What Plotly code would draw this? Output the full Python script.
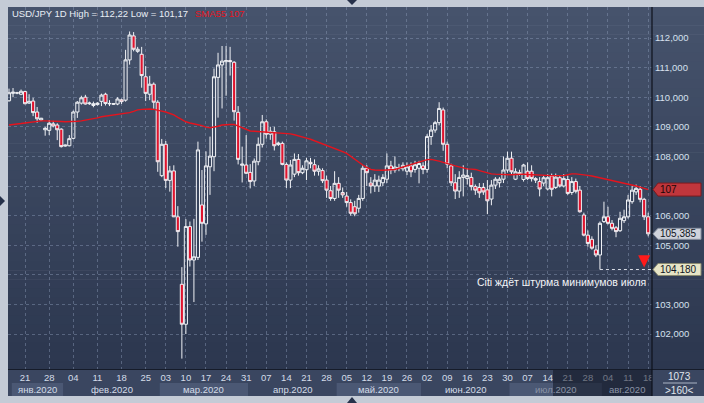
import plotly.graph_objects as go
import pandas as pd

# ---------------- data ----------------
jan_feb = [d for d in pd.date_range("2020-01-16", "2020-02-28") if d.weekday() != 5]
mar_aug = list(pd.bdate_range("2020-03-02", "2020-08-18"))
dates = [d.strftime("%Y-%m-%d") for d in jan_feb + mar_aug]

open_ = [
    109.88, 110.13, 110.15, 110.10, 110.19, 109.80, 109.87, 109.50, 109.23, 108.90,
    108.88, 109.10, 109.06, 108.92, 108.35, 108.36, 108.61, 109.50, 109.80, 110.00,
    109.78, 109.72, 109.75, 109.86, 110.10, 109.79, 109.76, 109.77, 109.91, 109.90,
    111.26, 112.07, 111.55, 111.45, 110.69, 110.10, 110.44, 109.83, 107.35, 108.41,
    107.19, 107.51, 105.96, 103.68, 102.33, 105.63, 104.50, 104.59, 106.36, 105.72,
    107.65, 107.99, 110.67, 111.09, 111.20, 111.24, 111.18, 109.49, 107.70, 107.71,
    107.46, 107.17, 107.82, 108.41, 109.17, 108.75, 108.83, 108.40, 108.44, 107.73,
    107.20, 107.40, 107.90, 107.45, 107.55, 107.80, 107.72, 107.50, 107.52, 107.20,
    106.84, 106.58, 107.09, 106.78, 106.66, 106.44, 106.30, 106.25, 106.58, 107.60,
    107.10, 107.00, 107.00, 107.11, 107.23, 107.68, 107.54, 107.60, 107.58, 107.50,
    107.68, 107.56, 107.60, 107.68, 107.56, 108.67, 108.89, 109.14, 109.57, 108.41,
    107.68, 107.11, 106.83, 107.29, 107.25, 107.29, 106.98, 106.95, 106.95, 106.87,
    106.56, 107.03, 107.11, 107.23, 107.54, 107.94, 107.23, 107.45, 107.22, 107.50,
    107.50, 107.25, 107.15, 107.10, 106.90, 107.34, 106.95, 107.28, 107.00, 107.22,
    106.78, 107.15, 106.86, 106.02, 105.34, 105.20, 104.84, 104.67, 105.80, 105.96,
    105.74, 105.59, 105.49, 105.83, 105.96, 106.47, 106.80, 106.89, 106.55, 105.96,
]
high = [
    110.29, 110.31, 110.18, 110.26, 110.22, 110.10, 109.98, 109.67, 109.30, 109.00,
    109.23, 109.20, 109.12, 108.95, 108.40, 108.72, 109.55, 109.87, 110.05, 110.08,
    109.85, 109.85, 109.83, 110.12, 110.15, 109.90, 109.80, 110.00, 109.95, 111.60,
    112.22, 112.20, 111.70, 111.70, 111.05, 110.72, 110.50, 109.90, 108.59, 108.52,
    107.68, 107.70, 106.32, 104.26, 105.88, 105.80, 105.89, 108.50, 107.54, 108.17,
    108.67, 110.97, 111.50, 111.73, 111.73, 111.70, 111.22, 109.70, 108.33, 108.72,
    107.74, 107.93, 108.64, 109.40, 109.25, 109.00, 109.00, 108.50, 108.50, 107.80,
    107.88, 108.10, 108.08, 107.70, 107.95, 107.95, 107.90, 107.70, 107.60, 107.35,
    107.00, 107.50, 107.30, 106.95, 106.80, 106.55, 106.50, 106.70, 107.70, 107.70,
    107.30, 107.40, 107.35, 107.40, 108.10, 107.85, 108.00, 107.75, 107.80, 107.80,
    107.80, 107.85, 107.85, 107.80, 108.75, 109.06, 109.20, 109.83, 109.65, 108.50,
    107.75, 107.40, 107.50, 107.70, 107.60, 107.45, 107.05, 107.10, 107.10, 107.20,
    107.20, 107.30, 107.30, 108.00, 108.16, 108.16, 107.60, 107.55, 107.75, 107.80,
    107.70, 107.30, 107.30, 107.35, 107.40, 107.42, 107.42, 107.35, 107.40, 107.35,
    107.30, 107.25, 107.00, 106.10, 105.50, 105.30, 105.00, 105.80, 106.47, 106.30,
    105.85, 105.65, 106.13, 106.20, 106.70, 107.00, 107.05, 107.00, 106.60, 106.10,
]
low = [
    109.85, 110.00, 110.10, 110.07, 109.76, 109.77, 109.36, 109.14, 109.20, 108.70,
    108.72, 108.98, 108.55, 108.30, 108.33, 108.34, 108.58, 109.30, 109.75, 109.75,
    109.74, 109.66, 109.72, 109.70, 109.72, 109.70, 109.74, 109.73, 109.77, 109.85,
    111.10, 111.55, 111.50, 110.32, 109.87, 109.90, 109.61, 107.48, 107.30, 106.93,
    106.81, 105.95, 104.95, 101.17, 102.00, 104.28, 103.08, 104.50, 105.12, 105.35,
    106.70, 107.50, 109.31, 109.62, 110.05, 110.73, 109.21, 107.73, 107.12, 107.40,
    106.92, 107.00, 107.70, 108.30, 108.60, 108.56, 108.20, 108.35, 107.70, 106.93,
    106.93, 107.30, 107.35, 107.40, 107.20, 107.60, 107.35, 107.35, 107.10, 106.60,
    106.50, 106.50, 106.60, 106.60, 106.30, 106.00, 105.98, 106.10, 106.50, 107.00,
    106.75, 106.80, 106.80, 107.00, 107.10, 107.40, 107.45, 107.50, 107.50, 107.37,
    107.30, 107.45, 107.09, 107.40, 107.45, 108.39, 108.80, 109.05, 108.19, 107.60,
    107.00, 106.56, 106.60, 106.65, 107.05, 106.85, 106.70, 106.60, 106.70, 106.05,
    106.35, 106.90, 106.95, 107.10, 107.45, 107.40, 107.20, 107.35, 107.15, 107.20,
    107.15, 107.10, 106.65, 107.00, 106.85, 106.65, 106.90, 106.95, 106.95, 106.70,
    106.70, 106.75, 106.10, 105.30, 104.95, 104.85, 104.60, 104.18, 105.75, 105.70,
    105.50, 105.27, 105.45, 105.75, 105.90, 106.40, 106.70, 106.45, 105.85, 105.30,
]
close = [
    110.15, 110.17, 110.14, 110.20, 109.78, 109.86, 109.48, 109.27, 109.29, 108.95,
    109.12, 109.03, 108.90, 108.33, 108.38, 108.60, 109.50, 109.83, 109.98, 109.77,
    109.80, 109.78, 109.80, 110.07, 109.79, 109.78, 109.78, 109.94, 109.85, 111.26,
    112.10, 111.62, 111.62, 110.73, 110.13, 110.44, 109.83, 107.82, 108.41, 107.19,
    107.51, 105.96, 105.46, 102.33, 105.63, 104.50, 104.61, 108.22, 105.74, 107.68,
    108.01, 110.69, 111.09, 111.22, 111.24, 111.20, 109.51, 107.90, 107.74, 107.43,
    107.15, 107.84, 108.41, 109.17, 108.75, 108.85, 108.36, 108.45, 107.73, 107.20,
    107.71, 107.90, 107.45, 107.60, 107.85, 107.75, 107.50, 107.58, 107.18, 106.86,
    106.58, 107.09, 106.86, 106.70, 106.44, 106.08, 106.06, 106.58, 107.60, 107.45,
    107.00, 107.20, 107.20, 107.29, 107.68, 107.54, 107.64, 107.62, 107.70, 107.65,
    107.48, 107.72, 107.76, 107.56, 108.67, 108.89, 109.14, 109.62, 108.41, 107.74,
    107.11, 106.83, 107.29, 107.37, 107.35, 106.98, 106.86, 106.77, 106.80, 106.50,
    107.03, 107.23, 107.23, 107.54, 107.94, 107.48, 107.48, 107.42, 107.71, 107.25,
    107.25, 107.20, 106.90, 107.28, 107.28, 106.89, 107.30, 107.00, 107.25, 106.75,
    107.15, 106.82, 106.13, 105.34, 105.06, 104.90, 104.67, 105.74, 105.96, 105.74,
    105.57, 105.46, 105.91, 105.96, 106.53, 106.86, 106.92, 106.55, 105.96, 105.385,
]
sma55 = [
    109.06, 109.07, 109.09, 109.11, 109.13, 109.15, 109.18, 109.20, 109.20, 109.20,
    109.20, 109.20, 109.19, 109.18, 109.17, 109.17, 109.18, 109.19, 109.20, 109.22,
    109.24, 109.27, 109.30, 109.34, 109.36, 109.38, 109.39, 109.40, 109.42, 109.45,
    109.48, 109.52, 109.57, 109.59, 109.60, 109.60, 109.59, 109.57, 109.53, 109.50,
    109.46, 109.40, 109.32, 109.23, 109.17, 109.13, 109.09, 109.07, 109.04, 108.99,
    108.97, 108.99, 109.02, 109.06, 109.08, 109.08, 109.08, 109.03, 108.97, 108.91,
    108.86, 108.85, 108.84, 108.83, 108.83, 108.82, 108.81, 108.80, 108.79, 108.78,
    108.76, 108.73, 108.70, 108.66, 108.62, 108.58, 108.53, 108.48, 108.43, 108.38,
    108.33, 108.28, 108.22, 108.16, 108.10, 108.00, 107.90, 107.79, 107.71, 107.63,
    107.56, 107.54, 107.53, 107.53, 107.54, 107.55, 107.56, 107.60, 107.64, 107.69,
    107.74, 107.78, 107.82, 107.86, 107.89, 107.90, 107.88, 107.84, 107.80, 107.77,
    107.72, 107.68, 107.64, 107.60, 107.58, 107.57, 107.56, 107.52, 107.48, 107.44,
    107.41, 107.40, 107.39, 107.38, 107.37, 107.38, 107.39, 107.40, 107.40, 107.39,
    107.38, 107.37, 107.36, 107.36, 107.35, 107.35, 107.35, 107.35, 107.35, 107.38,
    107.41, 107.41, 107.40, 107.38, 107.36, 107.34, 107.31, 107.28, 107.25, 107.22,
    107.20, 107.17, 107.14, 107.11, 107.07, 107.03, 107.00, 106.96, 106.92, 106.88,
]

tick_dates = [
    "2020-01-21", "2020-01-28", "2020-02-04", "2020-02-11", "2020-02-18", "2020-02-25",
    "2020-03-03", "2020-03-10", "2020-03-17", "2020-03-24", "2020-03-31",
    "2020-04-07", "2020-04-14", "2020-04-21", "2020-04-28",
    "2020-05-05", "2020-05-12", "2020-05-19", "2020-05-26",
    "2020-06-02", "2020-06-09", "2020-06-16", "2020-06-23", "2020-06-30",
    "2020-07-07", "2020-07-14", "2020-07-21", "2020-07-28",
    "2020-08-04", "2020-08-11", "2020-08-18",
]
tick_labels = [d[-2:] for d in tick_dates]
month_starts = ["2020-01-16", "2020-02-02", "2020-03-02", "2020-04-01",
                "2020-05-01", "2020-06-01", "2020-07-01", "2020-08-03"]
month_labels = ["янв.2020", "фев.2020", "мар.2020", "апр.2020",
                "май.2020", "июн.2020", "июл.2020", "авг.2020"]
y_ticks = [102, 103, 104, 105, 106, 107, 108, 109, 110, 111, 112]
# 107 and 104 labels are hidden behind the price tags in the reference
y_tick_labels = ["" if v in (104, 107) else f"{v},000" for v in y_ticks]
annotation_text = "Citi ждёт штурма минимумов июля"
header_text = "USD/JPY 1D High = 112,22 Low = 101,17"
sma_text = "SMA55 107"

# ---------------- geometry helpers ----------------
W, H = 704, 403
ML, MR, MT, MB = 8, 52, 7, 33
PW, PH = W - ML - MR, H - MT - MB
X_RANGE = [-0.25, 159.95]
Y_RANGE = [100.785, 113.047]
FONT = "Liberation Sans, Arial, sans-serif"


def px(x):
    return (x - ML) / PW


def py(y):
    return (H - MB - y) / PH


def pp(price):
    return (price - Y_RANGE[0]) / (Y_RANGE[1] - Y_RANGE[0])


def pxd(i):
    # data index -> pixel
    return ML + (i - X_RANGE[0]) / (X_RANGE[1] - X_RANGE[0]) * PW


shapes = []
annotations = []

# background gradient of the dark panel
top_c = (70, 83, 108)
bot_c = (44, 55, 79)
n = 40
for k in range(n):
    t = k / (n - 1)
    c = tuple(int(round(top_c[j] + (bot_c[j] - top_c[j]) * t)) for j in range(3))
    y_top = MT + k * PH / n
    y_bot = y_top + PH / n + 0.6
    shapes.append(dict(type="rect", xref="paper", yref="paper", x0=px(ML), x1=px(W),
                       y0=py(y_bot), y1=py(y_top), fillcolor=f"rgb{c}",
                       line=dict(width=0), layer="below"))
# axis strip
shapes.append(dict(type="rect", xref="paper", yref="paper", x0=px(ML), x1=px(W),
                   y0=py(396), y1=py(370), fillcolor="#3a4660", line=dict(width=0), layer="below"))
# month bands (paper coords derived from category index)
idx = {d: i for i, d in enumerate(dates)}
starts = [idx[d] for d in month_starts]
dim_from = 553
for m in range(len(starts)):
    x0 = starts[m] - 0.5 if m > 0 else 0.7
    x1 = starts[m + 1] - 0.5 if m + 1 < len(starts) else X_RANGE[1]
    col = "#4b5874" if m % 2 == 0 else "#3a4660"
    shapes.append(dict(type="rect", xref="paper", yref="paper", x0=px(pxd(x0)), x1=px(pxd(x1)),
                       y0=py(396), y1=py(383), fillcolor=col, line=dict(width=0), layer="below"))
    cx = pxd((x0 + x1) / 2)
    colr = "#d4dce8" if cx < dim_from else "#8a93a6"
    annotations.append(dict(xref="paper", yref="paper", x=px(cx), y=py(389.5), xanchor="center",
                            yanchor="middle", text=month_labels[m], showarrow=False,
                            font=dict(family=FONT, size=9.5, color=colr)))

# darker overlay on the right part of the date axis
shapes.append(dict(type="rect", xref="paper", yref="paper", x0=px(dim_from), x1=px(652),
                   y0=py(396), y1=py(370), fillcolor="rgba(10,14,26,0.5)",
                   line=dict(width=0), layer="above"))
# bottom-right box (covers overflowing tick label)
shapes.append(dict(type="rect", xref="paper", yref="paper", x0=px(652), x1=px(W),
                   y0=py(396), y1=py(370), fillcolor="#3a4660", line=dict(width=0), layer="above"))
# separators
shapes.append(dict(type="line", xref="paper", yref="paper", x0=px(ML), x1=px(W),
                   y0=py(369.5), y1=py(369.5), line=dict(color="#161c2a", width=1), layer="above"))
shapes.append(dict(type="line", xref="paper", yref="paper", x0=px(652), x1=px(652),
                   y0=py(MT), y1=py(396), line=dict(color="#0e121c", width=1.2), layer="above"))
shapes.append(dict(type="line", xref="paper", yref="paper", x0=px(663), x1=px(697),
                   y0=py(383), y1=py(383), line=dict(color="#aab4c4", width=1), layer="above"))
# small frame triangles
tri_col = "#26314a"
shapes.append(dict(type="path", xref="paper", yref="paper",
                   path=f"M {px(0)},{py(196)} L {px(5)},{py(201)} L {px(0)},{py(206)} Z",
                   fillcolor=tri_col, line=dict(width=0), layer="above"))
shapes.append(dict(type="path", xref="paper", yref="paper",
                   path=f"M {px(347)},{py(0)} L {px(357)},{py(0)} L {px(352)},{py(5)} Z",
                   fillcolor=tri_col, line=dict(width=0), layer="above"))
shapes.append(dict(type="path", xref="paper", yref="paper",
                   path=f"M {px(347)},{py(403)} L {px(357)},{py(403)} L {px(352)},{py(397)} Z",
                   fillcolor=tri_col, line=dict(width=0), layer="above"))

# dotted line from the July low
low_i = 140 + low[140:].index(min(low[140:]))
shapes.append(dict(type="line", xref="paper", yref="paper", x0=px(pxd(low_i)), x1=px(652),
                   y0=pp(low[low_i]), y1=pp(low[low_i]),
                   line=dict(color="#d8dde6", width=1, dash="dot"), layer="above"))


def tag(price, fill, border, text, tcolor, half=6.5):
    yc = pp(price)
    h = half / PH
    path = (f"M {px(653)},{yc} L {px(658)},{yc + h} L {px(701)},{yc + h} "
            f"L {px(701)},{yc - h} L {px(658)},{yc - h} Z")
    shapes.append(dict(type="path", xref="paper", yref="paper", path=path,
                       fillcolor=fill, line=dict(color=border, width=1), layer="above"))
    annotations.append(dict(xref="paper", yref="paper", x=px(658), y=yc, xanchor="left",
                            yanchor="middle", text=text, showarrow=False,
                            font=dict(family=FONT, size=10, color=tcolor)))


tag(sma55[-1], "#c0363c", "#7a1a1e", "107", "#1a0606")
tag(close[-1], "#cfd3dc", "#8a92a2", f"{close[-1]:.3f}".replace(".", ","), "#101522", half=5.5)
tag(low[low_i], "#e6e4c6", "#8a8a70", f"{low[low_i]:.3f}".replace(".", ","), "#101522", half=6)

# red arrow
annotations.append(dict(xref="x", yref="y", x=158, y=low[low_i] + 0.07, ax=0, ay=-12,
                        text="", showarrow=True, arrowhead=2, arrowsize=1.1,
                        arrowwidth=2.2, arrowcolor="#ff1a1a", standoff=0))
annotations.append(dict(xref="paper", yref="paper", x=px(648), y=py(282), xanchor="right",
                        yanchor="middle", text=annotation_text, showarrow=False,
                        font=dict(family=FONT, size=10.5, color="#f2f4f8")))
# header
annotations.append(dict(xref="paper", yref="paper", x=px(10), y=py(14), xanchor="left",
                        yanchor="middle", text=header_text, showarrow=False,
                        font=dict(family=FONT, size=9.5, color="#e8edf4")))
annotations.append(dict(xref="paper", yref="paper", x=px(193), y=py(14), xanchor="left",
                        yanchor="middle", text=sma_text, showarrow=False,
                        font=dict(family=FONT, size=9.5, color="#e4141e")))
# bottom-right box
annotations.append(dict(xref="paper", yref="paper", x=px(679), y=py(376), xanchor="center",
                        yanchor="middle", text="1073", showarrow=False,
                        font=dict(family=FONT, size=10, color="#e0e6ee")))
annotations.append(dict(xref="paper", yref="paper", x=px(679), y=py(390), xanchor="center",
                        yanchor="middle", text="&gt;160&lt;", showarrow=False,
                        font=dict(family=FONT, size=10, color="#e0e6ee")))

# ---------------- traces ----------------
fig = go.Figure()
fig.add_trace(go.Candlestick(
    x=dates, open=open_, high=high, low=low, close=close,
    increasing=dict(line=dict(color="#f0f2f6", width=1), fillcolor="rgba(0,0,0,0)"),
    decreasing=dict(line=dict(color="#f0f2f6", width=1), fillcolor="#e0142e"),
    whiskerwidth=0, hoverinfo="skip", showlegend=False,
))
fig.add_trace(go.Scatter(
    x=dates, y=sma55, mode="lines", line=dict(color="#e4141e", width=1.4),
    hoverinfo="skip", showlegend=False,
))

grid_col = "rgba(140,155,185,0.45)"
fig.update_layout(
    template="none",
    width=W, height=H,
    margin=dict(l=ML, r=MR, t=MT, b=MB, pad=0, autoexpand=False),
    paper_bgcolor="#c4cbd6", plot_bgcolor="rgba(0,0,0,0)",
    showlegend=False,
    boxgap=0.22, boxgroupgap=0,
    font=dict(family=FONT, size=10, color="#d6e0ee"),
    xaxis=dict(type="category", range=X_RANGE, rangeslider=dict(visible=False),
               automargin=False,
               tickmode="array", tickvals=tick_dates, ticktext=tick_labels,
               showgrid=True, gridcolor=grid_col, griddash="3px,3px", gridwidth=1,
               ticks="", showline=False, zeroline=False,
               tickfont=dict(family=FONT, size=9.5, color="#d4dce8")),
    yaxis=dict(side="right", range=Y_RANGE, tickmode="array", tickvals=y_ticks,
               automargin=False,
               ticktext=y_tick_labels, showgrid=True, gridcolor=grid_col,
               griddash="3px,3px", gridwidth=1, ticks="", showline=False, zeroline=False,
               ticklabelstandoff=2,
               tickfont=dict(family=FONT, size=9.5, color="#d6e0ee")),
    shapes=shapes,
    annotations=annotations,
)

fig.write_html(
    "out.html",
    config={"displayModeBar": False},
    post_script="document.body.style.margin='0px';document.body.style.overflow='hidden';",
)
